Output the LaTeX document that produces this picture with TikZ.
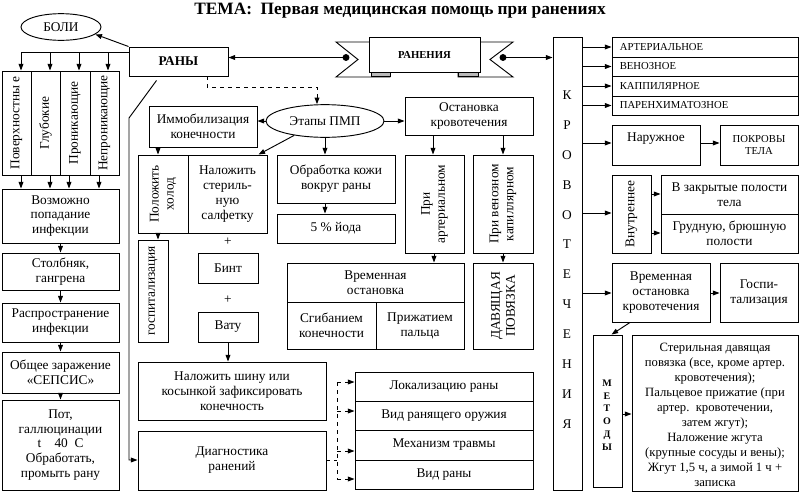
\documentclass[tikz,border=0pt]{standalone}
\usepackage{fontspec}
\setmainfont{Liberation Serif}
\usetikzlibrary{arrows.meta,fit,calc,shapes.geometric}
\newcommand\bxt[5][]{\node[box,fit={(#3) (#4)}] (#2) {}; \node[lbl,#1] at (#2.center) {#5};}
\begin{document}
\begin{tikzpicture}[x=0.75pt,y=-0.75pt,
 box/.style={draw,line width=0.7pt,inner sep=0pt},
 lbl/.style={align=center,font=\fontsize{10}{11.2}\selectfont,inner sep=0pt},
 arr/.style={-{Triangle[length=5pt,width=3.6pt]},line width=0.7pt},
 ln/.style={line width=0.7pt},
 smallt/.style={font=\fontsize{8}{9.5}\selectfont}
]
\useasboundingbox (0,0) rectangle (800,493);

% title
\node[font=\bfseries\fontsize{13}{15}\selectfont,inner sep=0pt,anchor=base] (title) at (400,14) {ТЕМА:\ \ Первая медицинская помощь при ранениях};

% left part
\node[ellipse,draw,line width=0.7pt,minimum width=60pt,minimum height=20pt,inner sep=0pt,lbl] (boli) at (61,27) {БОЛИ};
\bxt[font=\bfseries\fontsize{10}{11}\selectfont]{rany}{129,47}{228,76}{РАНЫ}
\draw[arr] (rany.north west) -- (boli.-12);

\bxt[rotate=90]{c1}{2,71}{31,175}{Поверхностны е}
\bxt[rotate=90]{c2}{31,71}{60,175}{Глубокие}
\bxt[rotate=90]{c3}{60,71}{90,175}{Проникающие}
\bxt[rotate=90]{c4}{90,71}{119,175}{Непроникающие}
\draw[ln] (rany.west |- 0,52) -- (21,52);
\foreach \x/\c in {21/c1,50/c2,79/c3,108/c4} \draw[arr] (\x,52) -- (\c.north -| \x,0);

\bxt{inf}{2,189}{119,243}{Возможно\\попадание\\инфекции}
\foreach \x/\c in {21/c1,50/c2,69/c3,99/c4} \draw[arr] (\c.south -| \x,0) -- (inf.north -| \x,0);
\bxt{stolb}{2,253}{119,290}{Столбняк,\\гангрена}
\bxt{rasp}{2,303}{119,342}{Распространение\\инфекции}
\bxt{sepsis}{2,352}{119,393}{Общее заражение\\«СЕПСИС»}
\bxt{pot}{2,400}{119,490}{Пот,\\галлюцинации\\t\quad 40\ \ C\\Обработать,\\промыть рану}
\draw[arr] (inf) -- (stolb);
\draw[arr] (stolb) -- (rasp);
\draw[arr] (rasp) -- (sepsis);
\draw[arr] (sepsis) -- (pot);

% middle
\node[ellipse,draw,line width=0.7pt,minimum width=88.5pt,minimum height=24.5pt,inner sep=0pt,lbl] (etapy) at (325,121) {Этапы ПМП};
\draw[arr,dashed] (rany.south -| 207,0) |- (317,87) -- (etapy.north -| 317,0);

\bxt{imm}{149,106}{257,147}{Иммобилизация\\конечности}
\draw[arr] (etapy.west) -- (imm.east |- etapy.west);

\bxt[rotate=90]{holod}{138,155}{188,233}{Положить\\холод}
\bxt{nal}{188,155}{267,233}{Наложить\\стериль-\\ную\\салфетку}
\draw[arr] (etapy.205) -- ($(nal.north east)+(-9,0)$);
\draw[arr] (imm.south -| 158,0) -- (holod.north -| 158,0);

\bxt[rotate=90]{gosp}{138,240}{168,342}{госпитализация}
\draw[arr] (holod.south -| 158,0) -- (gosp.north -| 158,0);

\node[lbl] (plus1) at (228,242) {+};
\bxt{bint}{198,253}{258,283}{Бинт}
\node[lbl] (plus2) at (228,300) {+};
\bxt{vatu}{198,312}{258,342}{Вату}

\bxt{shina}{138,362}{326,420}{Наложить шину или\\косынкой зафиксировать\\конечность}
\draw[arr] (vatu) -- (vatu |- shina.north);
\bxt{diag}{138,431}{326,490}{Диагностика\\ранений}

\draw[arr] ($(rany.south west)+(28,4)$) -- (129,118) -- (129,460) -- (diag.west |- 0,460);

\bxt{lok}{355,372}{533,401}{Локализацию раны}
\bxt{vid}{355,401}{533,430}{Вид ранящего оружия}
\bxt{mech}{355,430}{533,460}{Механизм травмы}
\bxt{vidr}{355,460}{533,489}{Вид раны}
\coordinate (dj) at (337,460);
\draw[ln,dashed] (diag.east |- dj) -- (dj);
\draw[ln,dashed] (337,382) -- (337,479);
\foreach \y/\b in {382/lok,411/vid,451/mech,479/vidr} \draw[arr,dashed] (337,\y) -- (\b.west |- 0,\y);

\bxt{obr}{277,155}{395,203}{Обработка кожи\\вокруг раны}
\bxt{iod}{277,214}{395,243}{5 \% йода}
\draw[arr] (etapy.south) -- (obr.north -| etapy.south);
\draw[arr] (obr.south -| etapy.south) -- (iod.north -| etapy.south);

\bxt{ost}{405,97}{533,135}{Остановка\\кровотечения}
\draw[arr] (etapy.east) -- (ost.west |- etapy.east);
\bxt[rotate=90]{part}{405,155}{464,253}{При\\артериальном}
\bxt[rotate=90]{pven}{473,155}{533,253}{При венозном\\капиллярном}
\draw[arr] (ost.south -| 433,0) -- (part.north -| 433,0);
\draw[arr] (ost.south -| 503,0) -- (pven.north -| 503,0);

\bxt{vremtop}{287,263}{464,302}{Временная\\остановка}
\bxt{sgib}{287,302}{376,349}{Сгибанием\\конечности}
\bxt{prizh}{376,302}{464,349}{Прижатием\\пальца}
\bxt[rotate=90]{dav}{473,263}{533,349}{ДАВЯЩАЯ\\ПОВЯЗКА}
\draw[arr] (part.south -| 434,0) -- (vremtop.north -| 434,0);
\draw[arr] (pven.south -| 503,0) -- (dav.north -| 503,0);

% ribbon
\draw[ln,fill=white] (369,42) -- (336,42) -- (358,59.5) -- (336,77) -- (390,77) -- (390,72);
\draw[ln,fill=gray!55] (371,72) rectangle (390,76);
\draw[ln,fill=white] (480,42) -- (513,42) -- (490,59.5) -- (513,77) -- (458,77) -- (458,72);
\draw[ln,fill=gray!55] (458,72) rectangle (478,76);
\node[box,fill=white,fit={(369,37) (480,72)}] (raneniya) {};
\node[lbl,font=\bfseries\fontsize{8}{9}\selectfont] at (raneniya.center) {РАНЕНИЯ};

% right part
\node[box,fit={(553,37) (582,490)}] (krov) {};
\node[lbl,font=\fontsize{10}{22.4}\selectfont] at (567,259.5) {К\\Р\\О\\В\\О\\Т\\Е\\Ч\\Е\\Н\\И\\Я};

\coordinate (dl) at (346,57.5);
\coordinate (dr) at (503,57.5);
\fill (dl) circle (2.6pt);
\fill (dr) circle (2.6pt);
\draw[arr] (dl) -- (dl -| rany.east);
\draw[arr] (dr) -- (dr -| krov.west);

\node[box,fit={(612,37) (798,57)}] (r1) {};
\node[box,fit={(612,57) (798,76)}] (r2) {};
\node[box,fit={(612,76) (798,96)}] (r3) {};
\node[box,fit={(612,96) (798,115)}] (r4) {};
\node[lbl,smallt,anchor=west] at ($(r1.west)+(8,0)$) {АРТЕРИАЛЬНОЕ};
\node[lbl,smallt,anchor=west] at ($(r2.west)+(8,0)$) {ВЕНОЗНОЕ};
\node[lbl,smallt,anchor=west] at ($(r3.west)+(8,0)$) {КАППИЛЯРНОЕ};
\node[lbl,smallt,anchor=west] at ($(r4.west)+(8,0)$) {ПАРЕНХИМАТОЗНОЕ};
\foreach \r in {r1,r2,r3,r4} \draw[arr] (krov.east |- \r.west) -- (\r.west);

\node[box,fit={(612,125) (700,165)}] (nar) {};
\node[lbl] at (656,139) {Наружное};
\bxt[smallt]{pokr}{720,125}{798,165}{ПОКРОВЫ\\ТЕЛА}
\draw[arr] (krov.east |- 0,143) -- (nar.west |- 0,143);
\draw[arr] (nar.east |- 0,143) -- (pokr.west |- 0,143);

\bxt[rotate=90]{vnut}{612,175}{651,253}{Внутреннее}
\bxt{zakr}{661,175}{798,214}{В закрытые полости\\тела}
\bxt{grud}{661,214}{798,253}{Грудную, брюшную\\полости}
\draw[arr] (krov.east |- 0,213) -- (vnut.west |- 0,213);
\draw[arr] (vnut.east |- 0,194) -- (zakr.west |- 0,194);
\draw[arr] (vnut.east |- 0,233) -- (grud.west |- 0,233);

\bxt{vok}{612,263}{710,322}{Временная\\остановка\\кровотечения}
\bxt{gospr}{720,263}{798,322}{Госпи-\\тализация}
\draw[arr] (krov.east |- 0,293) -- (vok.west |- 0,293);
\draw[arr] (vok.east |- 0,293) -- (gospr.west |- 0,293);

\node[box,fit={(593,335) (622,487)}] (metody) {};
\node[lbl,font=\bfseries\fontsize{7.5}{9.6}\selectfont] at (607,415) {М\\Е\\Т\\О\\Д\\Ы};
\draw[arr] (vok.south -| 630,0) -- ($(metody.north)+(4,0)$);

\node[box,fit={(632,335) (798,491)}] (big) {};
\node[lbl,font=\fontsize{9.5}{11.3}\selectfont] at (715,415) {Стерильная давящая\\повязка (все, кроме артер.\\кровотечения);\\ Пальцевое прижатие (при\\артер.\ \ кровотечении,\\затем жгут);\\Наложение жгута\\(крупные сосуды и вены);\\Жгут 1,5 ч, а зимой 1 ч +\\записка};
\draw[arr] (metody.east |- 0,414) -- (big.west |- 0,414);
\end{tikzpicture}
\end{document}
